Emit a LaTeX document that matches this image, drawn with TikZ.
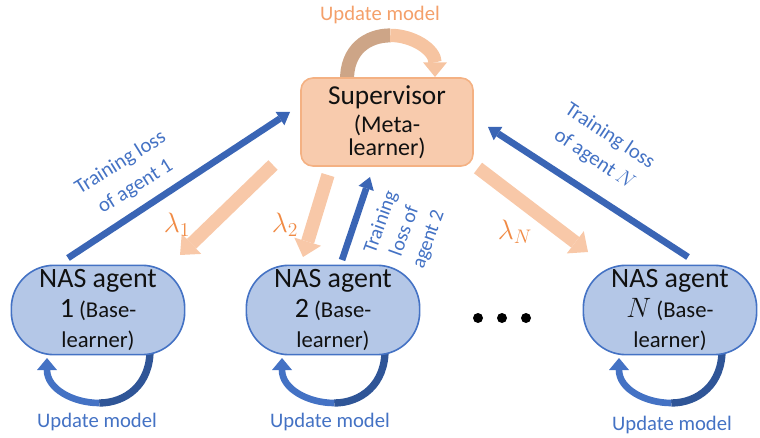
\documentclass[tikz,border=0pt]{standalone}
\usepackage{fix-cm}
\usepackage{fontspec}
\setmainfont{Carlito}
\usetikzlibrary{arrows.meta,calc,backgrounds}
\definecolor{supfill}{HTML}{F8CBAD}
\definecolor{supdraw}{HTML}{F4B183}
\definecolor{agfill}{HTML}{B4C7E7}
\definecolor{agdraw}{HTML}{4472C4}
\definecolor{lossblue}{HTML}{3A65B5}
\definecolor{loopdark}{HTML}{2F5597}
\definecolor{looplight}{HTML}{4472C4}
\definecolor{lamfill}{HTML}{F8C8A8}
\definecolor{suploopdark}{HTML}{CDA587}
\definecolor{suplooplight}{HTML}{F6C4A1}
\definecolor{txtblue}{HTML}{4472C4}
\definecolor{txtorange}{HTML}{F4A06A}
\definecolor{lamorange}{HTML}{F08A44}
\definecolor{nearblack}{HTML}{111111}
\newcommand{\mytightlines}{\lineskiplimit=-10pt\relax}
\begin{document}
\begin{tikzpicture}[x=0.75pt,y=-0.75pt,
 supbox/.style={draw=supdraw, fill=supfill, line width=1.2pt, rounded corners=9pt, minimum width=129pt, minimum height=66pt, inner sep=0pt, align=center, text=nearblack, font=\fontsize{18}{17}\selectfont\mytightlines},
 agentbox/.style={draw=agdraw, fill=agfill, line width=1.2pt, rounded corners=32pt, minimum width=130pt, minimum height=67pt, inner sep=0pt, align=center, text=nearblack, font=\fontsize{17}{22.5}\selectfont},
 lossarrow/.style={draw=lossblue, line width=5pt, -{Triangle[width=12pt,length=9pt,line width=0pt]}},
 lamarrow/.style={draw=lamfill, line width=10pt, -{Triangle[width=21pt,length=12pt,line width=0pt]}},
 loopa/.style={draw=loopdark, line width=5.5pt},
 loopb/.style={draw=looplight, line width=5pt, -{Triangle[width=15pt,length=9pt,line width=0pt]}},
 suploopa/.style={draw=suploopdark, line width=10.5pt},
 suploopb/.style={draw=suplooplight, line width=10pt, -{Triangle[width=18pt,length=11pt,line width=0pt]}},
 bluetext/.style={text=txtblue, font=\fontsize{15.5}{21}\selectfont, align=center, inner sep=0pt},
 orangetext/.style={text=txtorange, font=\fontsize{15.5}{21}\selectfont, inner sep=0pt},
 lamtext/.style={text=lamorange, font=\fontsize{21}{22}\selectfont, inner sep=0pt},
 dotnode/.style={circle, fill=black, inner sep=0pt, minimum size=7.5pt}]
\useasboundingbox (0,0) rectangle (760,438);

\node[supbox] (sup) at (387,122) {{\fontsize{20.5}{24}\selectfont Supervisor}\\[4pt](Meta-\\learner)};
\node[agentbox] (a1) at (98,310) {{\fontsize{21}{22.5}\selectfont NAS agent}\\{\fontsize{21}{22.5}\selectfont 1} (Base-\\learner)};
\node[agentbox] (a2) at (333,310) {{\fontsize{21}{22.5}\selectfont NAS agent}\\{\fontsize{21}{22.5}\selectfont 2} (Base-\\learner)};
\node[agentbox] (aN) at (670,310) {{\fontsize{21}{22.5}\selectfont NAS agent}\\{\fontsize{21}{22.5}\selectfont $N$} (Base-\\learner)};

\begin{scope}[on background layer]
  \begin{scope}[shift={(sup.center)}]
    \draw[suploopa] (-40,-40) .. controls (-41,-73) and (-19,-86.5) .. (3.25,-86.6);
    \draw[suploopb] (3.25,-86.6) .. controls (25.5,-86.75) and (48,-72.5) .. (48,-45);
  \end{scope}
  \foreach \ag in {a1,a2,aN}{
    \begin{scope}[shift={(\ag.center)}]
      \draw[loopa] (52,38) .. controls (53,75) and (27.25,93) .. (1.25,93);
      \draw[loopb] (1.25,93) .. controls (-24.75,93) and (-51,79) .. (-51,48);
    \end{scope}
  }
\end{scope}

\draw[lossarrow] ($(a1)+(-30,-52)$) -- ($(sup)+(-97,-10)$);
\draw[lossarrow] ($(a2)+(9,-50)$) -- ($(sup)+(-17,55)$);
\draw[lossarrow] ($(aN)+(18,-53)$) -- ($(sup)+(101,5)$);

\draw[lamarrow] ($(sup)+(-114,43)$) -- ($(a1)+(82,-55)$);
\draw[lamarrow] ($(sup)+(-59,53)$) -- ($(a2)+(-30,-53)$);
\draw[lamarrow] ($(sup)+(91,46)$) -- ($(aN)+(-82,-58)$);

\node[orangetext] (upsup) at (380,15) {Update model};
\node[bluetext] (up1) at (97,422) {Update model};
\node[bluetext] (up2) at (330,422) {Update model};
\node[bluetext] (upN) at (672,425) {Update model};
\node[bluetext, rotate=32] (l1) at (128,175) {Training loss\\of agent 1};
\node[bluetext, rotate=70, font=\fontsize{15}{19}\selectfont] (l2) at (405,231) {Training\\loss of\\agent 2};
\node[bluetext, rotate=-33.5] (lN) at (602,148) {Training loss\\of agent $N$};
\node[lamtext] (lam1) at (177,225) {$\lambda_1$};
\node[lamtext] (lam2) at (285,225) {$\lambda_2$};
\node[lamtext] (lamN) at (515,232) {$\lambda_N$};
\node[dotnode] (d1) at (478,318) {};
\node[dotnode] (d2) at (502,318) {};
\node[dotnode] (d3) at (526,318) {};
\end{tikzpicture}
\end{document}
